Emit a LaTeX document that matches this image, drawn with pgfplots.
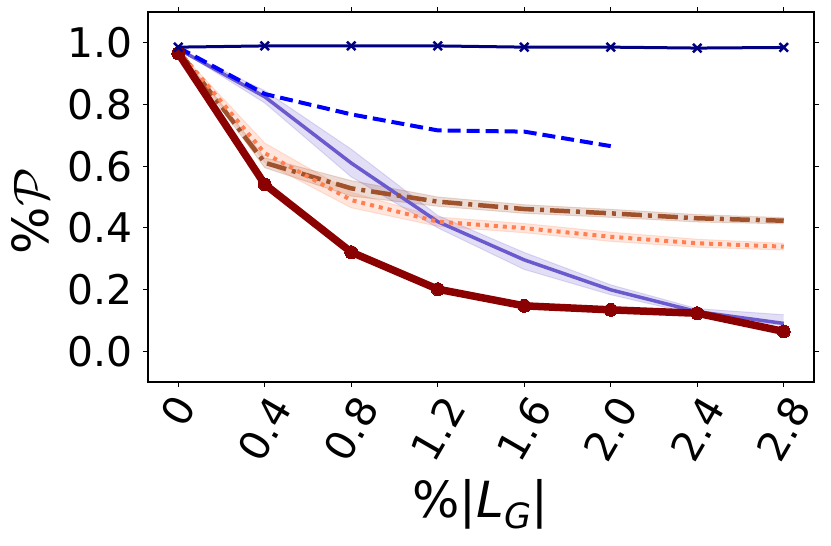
\RequirePackage{fix-cm}
\documentclass[border=0pt]{standalone}
\usepackage{fontspec}
\setmainfont{DejaVu Sans}
\usepackage{pgfplots}
\pgfplotsset{compat=1.18}
\usepgfplotslibrary{fillbetween}
\definecolor{mnavy}{RGB}{0,0,128}
\definecolor{mblue}{RGB}{0,0,255}
\definecolor{mslate}{RGB}{106,90,205}
\definecolor{msienna}{RGB}{160,82,45}
\definecolor{mcoral}{RGB}{255,127,80}
\definecolor{mdarkred}{RGB}{139,0,0}
\begin{document}
\begin{tikzpicture}
\begin{axis}[
  at={(0,0)}, anchor=south west,
  scale only axis, width=666bp, height=370bp,
  xmin=-0.14, xmax=2.94, ymin=-0.1, ymax=1.1,
  axis line style={line width=1.1bp},
  tick align=outside, major tick length=5bp,
  every tick/.style={black, line width=1.1bp},
  xtick={0.4,0.8,1.2,1.6,2.0,2.4,2.8},
  xticklabels={0.4,0.8,1.2,1.6,2.0,2.4,2.8},
  extra x ticks={0}, extra x tick labels={0},
  extra x tick style={x tick label style={rotate=-60, yshift=18bp, rotate=60}},
  x tick label style={font=\fontsize{41}{49}\selectfont, inner sep=0pt, anchor=center, yshift=-42bp, rotate=60},
  ytick={0,0.2,0.4,0.6,0.8,1.0},
  yticklabels={0.0,0.2,0.4,0.6,0.8,1.0},
  y tick label style={font=\fontsize{41}{49}\selectfont, anchor=east, inner sep=0pt, xshift=-10bp},
  xlabel={\%|\textit{L}\raisebox{-0.22em}{\fontsize{35}{40}\selectfont\itshape G}|},
  ylabel={\%$\mathcal{P}$},
  xlabel style={font=\fontsize{50}{60}\selectfont, at={(axis description cs:0.4985,-0.33)}, anchor=center, inner sep=0pt},
  ylabel style={font=\fontsize{50}{60}\selectfont, at={(axis description cs:-0.177,0.462)}, anchor=center, rotate=0, inner sep=0pt},
  clip=false,
]
% bands
\addplot[name path=su, draw=mslate, draw opacity=0.2, line width=1bp, forget plot] coordinates {(0,0.98) (0.4,0.845) (0.8,0.655) (1.2,0.44) (1.6,0.32) (2.0,0.215) (2.4,0.138) (2.8,0.118)};
\addplot[name path=sl, draw=mslate, draw opacity=0.2, line width=1bp, forget plot] coordinates {(0,0.98) (0.4,0.805) (0.8,0.565) (1.2,0.40) (1.6,0.265) (2.0,0.183) (2.4,0.118) (2.8,0.083)};
\addplot[mslate, fill opacity=0.2, forget plot] fill between[of=su and sl];
\addplot[name path=eu, draw=msienna, draw opacity=0.2, line width=1bp, forget plot] coordinates {(0,0.975) (0.4,0.627) (0.8,0.553) (1.2,0.50) (1.6,0.475) (2.0,0.460) (2.4,0.443) (2.8,0.433)};
\addplot[name path=el, draw=msienna, draw opacity=0.2, line width=1bp, forget plot] coordinates {(0,0.975) (0.4,0.595) (0.8,0.503) (1.2,0.470) (1.6,0.447) (2.0,0.434) (2.4,0.419) (2.8,0.413)};
\addplot[msienna, fill opacity=0.2, forget plot] fill between[of=eu and el];
\addplot[name path=cu, draw=mcoral, draw opacity=0.2, line width=1bp, forget plot] coordinates {(0,0.975) (0.4,0.675) (0.8,0.515) (1.2,0.435) (1.6,0.414) (2.0,0.386) (2.4,0.363) (2.8,0.350)};
\addplot[name path=cl, draw=mcoral, draw opacity=0.2, line width=1bp, forget plot] coordinates {(0,0.975) (0.4,0.612) (0.8,0.465) (1.2,0.405) (1.6,0.384) (2.0,0.356) (2.4,0.337) (2.8,0.328)};
\addplot[mcoral, fill opacity=0.2, forget plot] fill between[of=cu and cl];
% lines
\addplot[mslate, line width=3.5bp] coordinates {(0,0.98) (0.4,0.825) (0.8,0.61) (1.2,0.42) (1.6,0.296) (2.0,0.199) (2.4,0.128) (2.8,0.09)};
\addplot[msienna, line width=4.5bp, dash pattern=on 20bp off 6bp on 4bp off 6bp] coordinates {(0,0.975) (0.4,0.611) (0.8,0.528) (1.2,0.485) (1.6,0.461) (2.0,0.447) (2.4,0.431) (2.8,0.423)};
\addplot[mcoral, line width=4bp, dash pattern=on 4bp off 5bp] coordinates {(0,0.975) (0.4,0.642) (0.8,0.49) (1.2,0.42) (1.6,0.399) (2.0,0.371) (2.4,0.35) (2.8,0.339)};
\addplot[mblue, line width=4bp, dash pattern=on 13bp off 6bp] coordinates {(0,0.985) (0.4,0.834) (0.8,0.768) (1.2,0.716) (1.6,0.712) (2.0,0.665)};
\addplot[mdarkred, line width=7.5bp, mark=*, mark size=6.5bp, mark options={solid, line width=0bp}] coordinates {(0,0.966) (0.4,0.541) (0.8,0.321) (1.2,0.201) (1.6,0.147) (2.0,0.134) (2.4,0.123) (2.8,0.064)};
\addplot[mnavy, line width=3bp, mark=x, mark size=6bp, mark options={line width=2.5bp}] coordinates {(0,0.986) (0.4,0.990) (0.8,0.990) (1.2,0.990) (1.6,0.986) (2.0,0.986) (2.4,0.983) (2.8,0.985)};
\end{axis}
\pgfresetboundingbox
\path[use as bounding box] (-148bp,-164bp) rectangle (683bp,382bp);
\end{tikzpicture}
\end{document}
